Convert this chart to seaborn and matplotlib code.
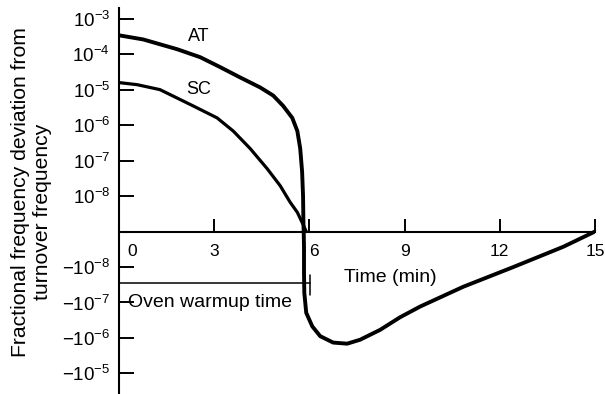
import matplotlib
matplotlib.use("Agg")
import matplotlib.pyplot as plt
import matplotlib.transforms as mtransforms
from matplotlib.ticker import NullLocator
import seaborn as sns

# Warm-up curves: fractional frequency deviation from turnover frequency vs time (min)
at_time = [0, 0.76, 1.83, 2.56, 3.19, 3.82, 4.45, 4.86, 5.17, 5.46, 5.62,
           5.71, 5.77, 5.80, 5.81, 5.82, 5.83, 5.83, 5.84, 5.90, 6.09, 6.34,
           6.75, 7.19, 7.60, 8.23, 8.86, 9.50, 10.85, 12.43, 14.0, 15.0]
at_dev = [3.4e-4, 2.6e-4, 1.38e-4, 8.2e-5, 4.3e-5, 2.2e-5, 1.15e-5, 6.8e-6,
          3.5e-6, 1.6e-6, 6.8e-7, 2.2e-7, 4.9e-8, 1.0e-8, 3.4e-9, 0,
          -4.3e-9, -1.48e-8, -5.4e-8, -1.95e-7, -4.7e-7, -8.9e-7, -1.35e-6,
          -1.45e-6, -1.12e-6, -5.9e-7, -2.6e-7, -1.29e-7, -3.6e-8, -1.0e-8,
          -4.3e-9, 0]

sc_time = [0, 0.57, 1.29, 2.33, 3.09, 3.60, 4.13, 4.67, 5.08, 5.39, 5.62,
           5.80, 5.90]
sc_dev = [1.58e-5, 1.38e-5, 1.0e-5, 3.5e-6, 1.6e-6, 6.8e-7, 2.2e-7, 5.9e-8,
          1.95e-8, 8.3e-9, 5.4e-9, 2.0e-9, 0]

x_ticks = [0, 3, 6, 9, 12, 15]
x_tick_labels = ["0", "3", "6", "9", "12", "15"]
y_ticks = [1e-3, 1e-4, 1e-5, 1e-6, 1e-7, 1e-8, -1e-8, -1e-7, -1e-6, -1e-5]
y_tick_labels = [r"$10^{-3}$", r"$10^{-4}$", r"$10^{-5}$", r"$10^{-6}$",
                 r"$10^{-7}$", r"$10^{-8}$", r"$-10^{-8}$", r"$-10^{-7}$",
                 r"$-10^{-6}$", r"$-10^{-5}$"]

sns.set_style("white")
plt.rcParams["font.family"] = ["Liberation Sans", "DejaVu Sans"]
plt.rcParams["mathtext.fontset"] = "custom"
plt.rcParams["mathtext.rm"] = "Liberation Sans"
plt.rcParams["mathtext.it"] = "Liberation Sans:italic"
plt.rcParams["mathtext.bf"] = "Liberation Sans:bold"
plt.rcParams["text.color"] = "black"
plt.rcParams["xtick.color"] = "black"
plt.rcParams["ytick.color"] = "black"

fig = plt.figure(figsize=(6.05, 3.94), dpi=100)
ax = fig.add_axes([119 / 605, 0.0, 476 / 605, 386 / 394])

sns.lineplot(x=at_time, y=at_dev, estimator=None, sort=False,
             color="black", lw=2.8, ax=ax)
sns.lineplot(x=sc_time, y=sc_dev, estimator=None, sort=False,
             color="black", lw=2.3, ax=ax)

ax.set_yscale("symlog", linthresh=1e-8, linscale=0.9)
ax.set_xlim(0, 15)
ax.set_ylim(-3.8e-5, 2.0e-3)

for side in ("top", "right"):
    ax.spines[side].set_visible(False)
ax.spines["bottom"].set_position(("data", 0))
for side in ("left", "bottom"):
    ax.spines[side].set_linewidth(1.5)
    ax.spines[side].set_color("black")

ax.set_xticks(x_ticks, x_tick_labels)
ax.set_yticks(y_ticks, y_tick_labels)
ax.xaxis.set_minor_locator(NullLocator())
ax.yaxis.set_minor_locator(NullLocator())
ax.tick_params(axis="x", which="major", bottom=True, top=False,
               direction="in", length=9.5, width=1.4, pad=9,
               labelsize=12.5, color="black", labelcolor="black")
ax.tick_params(axis="y", which="major", left=True, right=False,
               direction="in", length=11, width=1.4, pad=6.5,
               labelsize=13.5, color="black", labelcolor="black")
ax.set_xlabel("")
ax.set_ylabel("")

# nudge the "0" and "6" labels off their tick lines
shifts = {"0": 13, "6": 5}
for tick in ax.xaxis.get_major_ticks():
    lab = tick.label1
    if lab.get_text() in shifts:
        lab.set_transform(lab.get_transform() +
                          mtransforms.ScaledTranslation(shifts[lab.get_text()] / 100, 0,
                                                        fig.dpi_scale_trans))

# curve labels
ax.text(2.52, 3.2e-4, "AT", ha="center", va="center", fontsize=13)
ax.text(2.50, 1.0e-5, "SC", ha="center", va="center", fontsize=13)
ax.text(8.54, -2.04e-8, "Time (min)", ha="center", va="center", fontsize=14)

# oven warm-up interval bracket
ax.plot([0, 6.02], [-2.8e-8, -2.8e-8], color="black", lw=1.1, clip_on=False)
ax.plot([6.02, 6.02], [-1.68e-8, -6.2e-8], color="black", lw=1.1, clip_on=False)
ax.text(0.28, -9.7e-8, "Oven warmup time", ha="left", va="center", fontsize=14)

fig.text(21 / 605, 1 - 192.5 / 394, "Fractional frequency deviation from",
         rotation=90, ha="center", va="center", fontsize=15.2)
fig.text(42.5 / 605, 1 - 211.5 / 394, "turnover frequency",
         rotation=90, ha="center", va="center", fontsize=15.2)

fig.savefig("out.png", dpi=100)
